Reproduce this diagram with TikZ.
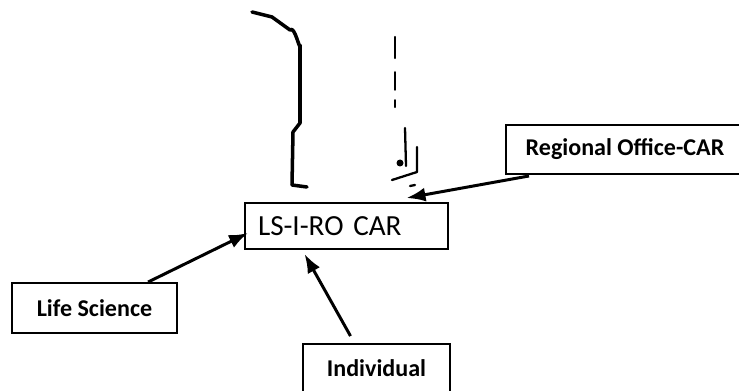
\documentclass[tikz,border=0pt]{standalone}
\usepackage{fontspec}
\setmainfont{Carlito}
\usetikzlibrary{arrows.meta,positioning,calc}

\begin{document}
\begin{tikzpicture}[x=0.02cm,y=-0.02cm,
  box/.style={draw,line width=1.1pt,inner sep=0pt,font=\bfseries\fontsize{13.7}{15}\selectfont},
  link/.style={-{Latex[length=3.8mm,width=2.8mm]},line width=1.7pt},
  scrawl/.style={line width=1.3pt,line cap=round,line join=round}]
\useasboundingbox (0,0) rectangle (739,391);
\clip (0,0) rectangle (739,391);
% boxes
\node[box,minimum width=203*0.02cm,minimum height=46*0.02cm,text width=203*0.02cm-0.52cm,align=left,inner xsep=0.26cm,font=\fontsize{16.6}{18}\selectfont] (lsro) at (346.5,226) {LS-I-RO CAR};
\node[box,minimum width=238*0.02cm,minimum height=49*0.02cm] (region) at (625,149.5) {Regional Office-CAR};
\node[box,minimum width=165*0.02cm,minimum height=50*0.02cm] (life) at (94.5,308) {Life Science};
\node[box,minimum width=147*0.02cm,minimum height=48*0.02cm] (indiv) at (376.5,368) {Individual};
% arrows
\draw[link] ([xshift=-17]life.north east) -- ([shift={(4,7)}]lsro.west);
\draw[link] ([shift={(-26,-7)}]indiv.north) -- ([shift={(-42,4)}]lsro.south);
\draw[link] ([shift={(24,1)}]region.south west) -- ([shift={(60,-4)}]lsro.north);
% marks above the box
\draw[scrawl,line width=2pt] (252,12) -- (272,17) -- (290,30) to[out=50,in=-90] (300,45) -- (300,123) -- (293,132) -- (292,185) -- (307,187);
\draw[scrawl,dash pattern=on 12 off 8 on 10 off 6 on 5 off 4 on 3 off 4] (395,37) -- (395,107);
\draw[scrawl] (405,128) -- (406,166);
\draw[scrawl] (417,147) -- (417,172) -- (392,180);
\fill (400,163) circle (3.5);
\draw[scrawl] (410,186) -- (415,185);
\end{tikzpicture}
\end{document}
